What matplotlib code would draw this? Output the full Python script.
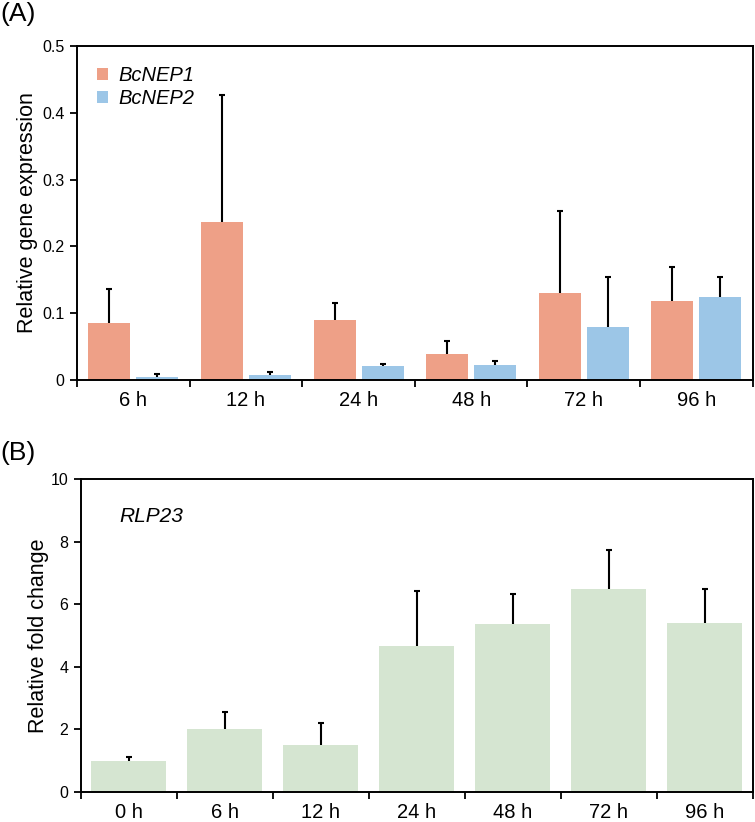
import numpy as np
import matplotlib
matplotlib.use("Agg")
import matplotlib.pyplot as plt

plt.rcParams['font.family'] = ['Liberation Sans', 'DejaVu Sans']

# Panel A data
times_a = ['6 h', '12 h', '24 h', '48 h', '72 h', '96 h']
nep1 = [0.085, 0.237, 0.090, 0.039, 0.130, 0.119]
nep1_top = [0.136, 0.427, 0.115, 0.059, 0.253, 0.169]
nep2 = [0.0045, 0.007, 0.0205, 0.023, 0.079, 0.124]
nep2_top = [0.0095, 0.012, 0.024, 0.029, 0.154, 0.154]

# Panel B data
times_b = ['0 h', '6 h', '12 h', '24 h', '48 h', '72 h', '96 h']
rlp23 = [0.98, 2.0, 1.49, 4.67, 5.36, 6.49, 5.41]
rlp23_top = [1.12, 2.55, 2.21, 6.42, 6.32, 7.73, 6.49]

c1 = '#EEA087'
c2 = '#9CC6E7'
cg = '#D5E5D1'

fig = plt.figure(figsize=(7.55, 8.22), dpi=100)


def upper_bars(ax, xs, vals, tops):
    # error bars drawn upward only, no cap at the bar top
    err = [np.zeros(len(vals)), np.array(tops) - np.array(vals)]
    eb = ax.errorbar(xs, vals, yerr=err, fmt='none', ecolor='black',
                     elinewidth=1.5, capsize=2.5, capthick=1.5)
    caps = eb.lines[1]
    caps[0].set_visible(False)


def style(ax, n):
    ax.set_xlim(-0.5, n - 0.5)
    ax.set_xticks(np.arange(n + 1) - 0.5)
    ax.set_xticklabels([])
    ax.set_xticks(np.arange(n), minor=True)
    ax.tick_params(axis='x', which='minor', length=0, labelsize=14.5, pad=8)
    ax.tick_params(axis='x', which='major', direction='out', length=5, width=1.3)
    ax.tick_params(axis='y', direction='out', length=5, width=1.3, labelsize=11.5, pad=4)
    for s in ax.spines.values():
        s.set_linewidth(1.4)


# (A)
ax1 = fig.add_axes([0.102, 0.5377, 0.895, 0.4063])
x = np.arange(len(times_a))
w = 0.373
ax1.bar(x - 0.213, nep1, w, color=c1, label='BcNEP1')
ax1.bar(x + 0.213, nep2, w, color=c2, label='BcNEP2')
upper_bars(ax1, x - 0.213, nep1, nep1_top)
upper_bars(ax1, x + 0.213, nep2, nep2_top)
style(ax1, len(times_a))
ax1.set_xticklabels(times_a, minor=True)
ax1.set_ylim(0, 0.5)
ax1.set_yticks([0, 0.1, 0.2, 0.3, 0.4, 0.5])
ax1.set_yticklabels(['0', '0.1', '0.2', '0.3', '0.4', '0.5'])
ax1.set_ylabel('Relative gene expression', fontsize=15.5, labelpad=3)
ax1.legend(loc='upper left', frameon=False, prop={'style': 'italic', 'size': 14.5},
           handlelength=0.55, handleheight=0.55, handletextpad=0.5,
           labelspacing=0.2, bbox_to_anchor=(0.0, 1.0), borderaxespad=0.6)
fig.text(0.0, 0.997, '(A)', fontsize=19, va='top', ha='left')

# (B)
ax2 = fig.add_axes([0.1069, 0.0369, 0.890, 0.380])
xb = np.arange(len(times_b))
ax2.bar(xb, rlp23, 0.78, color=cg)
upper_bars(ax2, xb, rlp23, rlp23_top)
style(ax2, len(times_b))
ax2.set_xticklabels(times_b, minor=True)
ax2.set_ylim(0, 10)
ax2.set_yticks([0, 2, 4, 6, 8, 10])
ax2.set_ylabel('Relative fold change', fontsize=15.5, labelpad=1)
ax2.text(0.057, 0.88, 'RLP23', transform=ax2.transAxes, fontsize=15,
         style='italic', va='center', ha='left')
fig.text(0.0, 0.463, '(B)', fontsize=19, va='top', ha='left')

fig.savefig('out.png', dpi=100)
